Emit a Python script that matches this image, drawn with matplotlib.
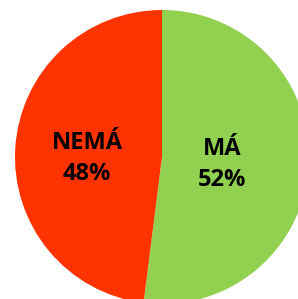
import matplotlib
matplotlib.use("Agg")
import matplotlib.pyplot as plt

categories = ["MÁ", "NEMÁ"]
values = [52, 48]
colors = ["#92D050", "#FF3300"]

fig = plt.figure(figsize=(2.98, 2.99), dpi=100)
ax = fig.add_axes([15/298, -5/299, 294/298, 294/299])
wedges, texts = ax.pie(values, colors=colors, startangle=90, counterclock=False,
                       labels=[f"{c}\n{v}%" for c, v in zip(categories, values)],
                       labeldistance=0.45,
                       wedgeprops=dict(linewidth=0),
                       textprops=dict(fontsize=17, fontweight="bold", family="Open Sans",
                                      ha="center", va="center", linespacing=1.35))
texts[0].set_position((0.41, -0.05))
texts[1].set_position((-0.51, -0.01))
for t in texts:
    t.set_ha("center")
ax.set_xlim(-1, 1)
ax.set_ylim(-1, 1)
ax.set_aspect("equal")
ax.axis("off")
fig.savefig("out.png", dpi=100)
